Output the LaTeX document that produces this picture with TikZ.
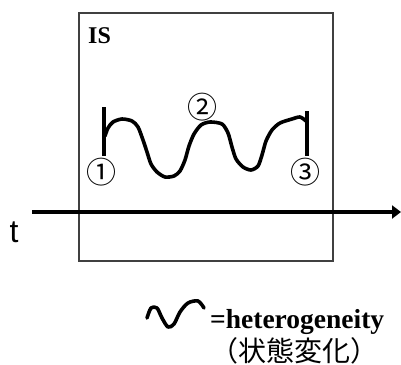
\documentclass[tikz,border=0pt]{standalone}
\usepackage{fontspec}
\setmainfont{Liberation Serif}
\newfontfamily\cjkfont{Noto Sans CJK JP}
\newfontfamily\arialfont{Liberation Sans}
\usetikzlibrary{arrows.meta}
\begin{document}
\begin{tikzpicture}[x=1pt,y=-1pt,
  framebox/.style={draw=black!75, line width=1.3pt, minimum width=254pt, minimum height=248pt, inner sep=0pt},
  axisline/.style={line width=4pt, -{Triangle[length=9pt,width=13pt]}},
  wave/.style={line width=3.6pt, line cap=round, line join=round},
  circnum/.style={font=\cjkfont\fontsize{30}{32}\selectfont, inner sep=0pt},
  islabel/.style={font=\bfseries\fontsize{24}{28}\selectfont, inner sep=0pt, anchor=base west},
  legendtxt/.style={font=\bfseries\fontsize{27.5}{30}\selectfont, inner sep=0pt, anchor=base west},
  jptxt/.style={font=\cjkfont\fontsize{28}{30}\selectfont, inner sep=0pt}
]
\useasboundingbox (0,0) rectangle (401,364);
\node[framebox] (frame) at (206,137) {};
\node[islabel] (IS) at (88,43) {IS};
\coordinate (tstart) at (32,212);
\coordinate (tend) at (401,212);
\draw[axisline] (tstart) -- (tend);
\node[font=\arialfont\fontsize{32}{36}\selectfont, inner sep=0pt] (t) at (14,232) {t};
% bars
\draw[wave, line cap=butt] (104,107) -- (104,156);
\draw[wave, line cap=butt] (307,111) -- (307,156);
% main wave
\draw[wave] plot[smooth, tension=0.45] coordinates {
  (105,136) (108,128) (113,122) (122,119) (132,121) (138,127) (143,140)
  (147,152) (151,164) (157,172) (165,177) (174,176) (180,171)
  (185,160) (189,146) (194,134) (201,125) (210,122) (222,124)
  (228,133) (232,147) (236,159) (243,167) (251,170) (258,166)
  (262,155) (266,141) (272,130) (280,123) (292,119) (300,117) (306,121)};
\node[circnum] (n1) at (101,172) {①};
\node[circnum] (n2) at (202,107) {②};
\node[circnum] (n3) at (305,172) {③};
% legend
\draw[wave] plot[smooth, tension=0.5] coordinates {
  (147,318) (151,308) (157,308) (162,318) (168,327) (174,324) (180,312) (188,303) (198,301) (204,308)};
\node[legendtxt] (het) at (210,328) {=heterogeneity};
\node[jptxt] (jp) at (294,351) {（状態変化）};
\end{tikzpicture}
\end{document}
